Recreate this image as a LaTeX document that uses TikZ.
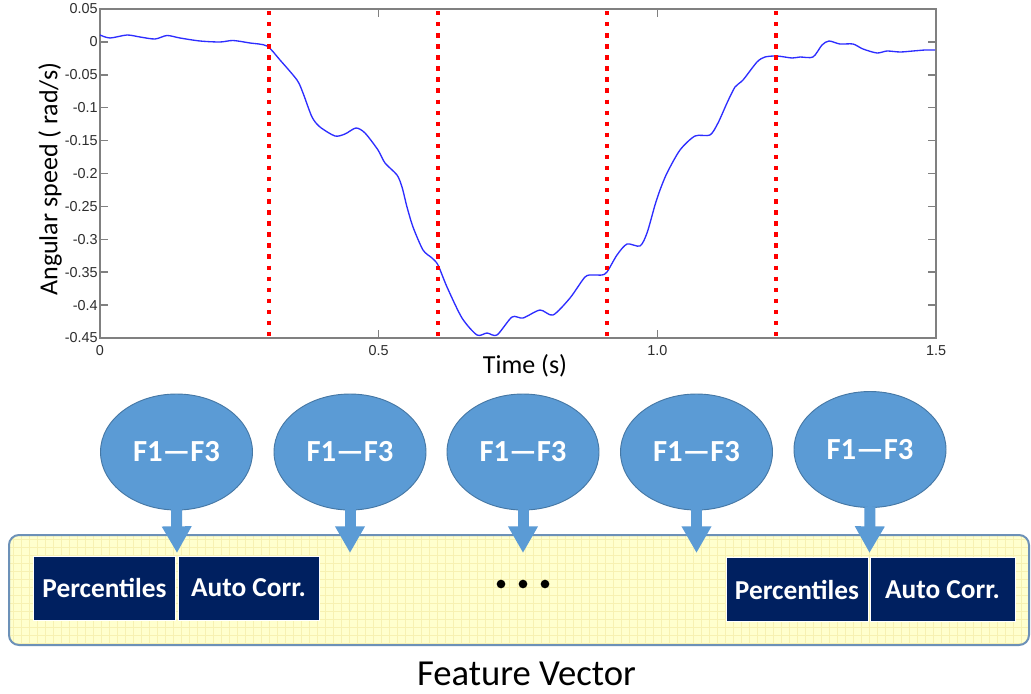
\documentclass[tikz,border=0pt]{standalone}
\usepackage{fontspec}
\setmainfont{Carlito}
\newfontfamily\axisfont{Liberation Sans}
\usetikzlibrary{shapes.geometric,arrows.meta}
\definecolor{ellblue}{RGB}{91,155,213}
\definecolor{ellborder}{RGB}{70,120,165}
\definecolor{navybox}{RGB}{0,32,96}
\definecolor{vecfill}{RGB}{255,255,206}
\definecolor{vecgrid}{RGB}{247,241,178}
\definecolor{vecborder}{RGB}{108,145,184}
\definecolor{curveblue}{RGB}{45,45,255}
\definecolor{axisgray}{RGB}{128,128,128}
\definecolor{ticktext}{RGB}{45,45,45}
\begin{document}
\begin{tikzpicture}[x=0.75pt,y=-0.75pt,
  axisline/.style={draw=axisgray, line width=1.1pt},
  ticklab/.style={font=\axisfont\fontsize{10.8}{12}\selectfont, text=ticktext, inner sep=0pt},
  axislab/.style={font=\fontsize{19.5}{22}\selectfont, inner sep=0pt},
  segline/.style={draw=red, line width=3.3pt, dash pattern=on 3.3pt off 5pt},
  curve/.style={draw=curveblue, line width=1pt},
  featell/.style={ellipse, fill=ellblue, draw=ellborder, line width=0.7pt, minimum width=114pt, minimum height=87pt, inner sep=0pt, text=white, font=\bfseries\fontsize{23}{26}\selectfont},
  blockarrow/.style={draw=ellblue, line width=8.25pt, -{Triangle[length=20pt 0, width=21pt 0]}},
  featbox/.style={rectangle, fill=navybox, draw=white, line width=0.75pt, minimum height=48pt, inner sep=0pt, text=white, font=\bfseries\fontsize{20.5}{22}\selectfont},
  dotnode/.style={circle, fill=black, minimum size=6.5pt, inner sep=0pt}]
\useasboundingbox[fill=white] (0,0) rectangle (1031,693);

% ---------------- plot ----------------
\draw[axisline] (100,9) rectangle (936,338);
\foreach \i/\lab in {0/0.05,1/0,2/-0.05,3/-0.1,4/-0.15,5/-0.2,6/-0.25,7/-0.3,8/-0.35,9/-0.4,10/-0.45} {
  \pgfmathsetmacro\yy{9+32.9*\i}
  \draw[axisline] (100,\yy) -- (108,\yy) (936,\yy) -- (928,\yy);
  \node[ticklab, anchor=east] (yl\i) at (98,\yy) {\lab};
}
\draw[axisline] (378.7,338) -- (378.7,330) (378.7,9) -- (378.7,17)
                (657.3,338) -- (657.3,330) (657.3,9) -- (657.3,17);
\node[ticklab] (xl0) at (100,351) {0};
\node[ticklab] (xl1) at (378.7,351) {0.5};
\node[ticklab] (xl2) at (657.3,351) {1.0};
\node[ticklab] (xl3) at (936,351) {1.5};
\node[axislab, rotate=90] (ylab) at (50,179) {Angular speed ( rad/s)};
\node[axislab] (xlab) at (525,366) {Time (s)};

\draw[curve] plot[smooth, tension=0.45] coordinates {
(100,35) (110,38) (127,35) (140,37) (155,39) (167,35.5) (180,38) (200,41) (220,42) (233,40.5) (250,43) (267,46)
(280,60) (297,80) (303,93) (312,117) (320,127) (335,136) (345,134) (356,128) (365,133) (378,150) (385,163)
(397,175) (402,187) (407,207) (413,227) (423,250) (432,258) (438,265) (447,287) (462,318) (477,335) (487,333)
(497,335) (512,317) (523,318) (540,310) (553,315) (570,298) (585,277) (593,275) (602,275) (607,272) (617,255)
(627,244) (640,246) (647,233) (655,205) (660,190) (667,173) (680,150) (695,136) (710,135) (718,123) (727,103)
(735,87) (743,80) (757,62) (765,57) (777,56) (792,58) (800,57) (813,57) (822,45) (829,41) (840,44) (853,44)
(863,49) (877,53) (887,51) (900,52) (913,51) (925,50) (935,50)};

\foreach \xx in {269,438,607,776} {
  \draw[segline] (\xx,11) -- (\xx,338);
}

% ---------------- feature vector ----------------
\fill[vecfill, rounded corners=7.5pt] (9,535) rectangle (1029,645);
\begin{scope}
  \clip[rounded corners=7.5pt] (9,535) rectangle (1029,645);
  \foreach \gx in {13,21,...,1029} { \draw[vecgrid, line width=0.4pt] (\gx,535) -- (\gx,645); }
  \foreach \gy in {539,547,...,645} { \draw[vecgrid, line width=0.4pt] (9,\gy) -- (1029,\gy); }
\end{scope}
\draw[vecborder, line width=1.5pt, rounded corners=7.5pt] (9,535) rectangle (1029,645);

\node[featbox, minimum width=107pt] (p1) at (104.5,588) {Percentiles};
\node[featbox, minimum width=105.75pt] (a1) at (248.5,588) {Auto Corr.};
\node[featbox, minimum width=106.5pt] (p2) at (797,589.5) {Percentiles};
\node[featbox, minimum width=108.75pt] (a2) at (942.5,589.5) {Auto Corr.};

\node[dotnode] (d1) at (501,584) {};
\node[dotnode] (d2) at (523,584) {};
\node[dotnode] (d3) at (545,584) {};

% ellipses
\node[featell] (e1) at (176.5,452) {F1—F3};
\node[featell] (e2) at (350,452) {F1—F3};
\node[featell] (e3) at (523,452) {F1—F3};
\node[featell] (e4) at (696.5,452) {F1—F3};
\node[featell] (e5) at (870,449.5) {F1—F3};

\coordinate (t1) at (177,553);
\coordinate (t2) at (350,553);
\coordinate (t3) at (523,553);
\coordinate (t4) at (696.5,553);
\coordinate (t5) at (869.5,553);
\foreach \k in {1,...,5} {
  \draw[blockarrow] ([yshift=1pt]e\k.south) -- (t\k);
}

\node[font=\fontsize{27.5}{30}\selectfont, anchor=base, inner sep=0pt] (fv) at (526.5,685) {Feature Vector};
\end{tikzpicture}
\end{document}
